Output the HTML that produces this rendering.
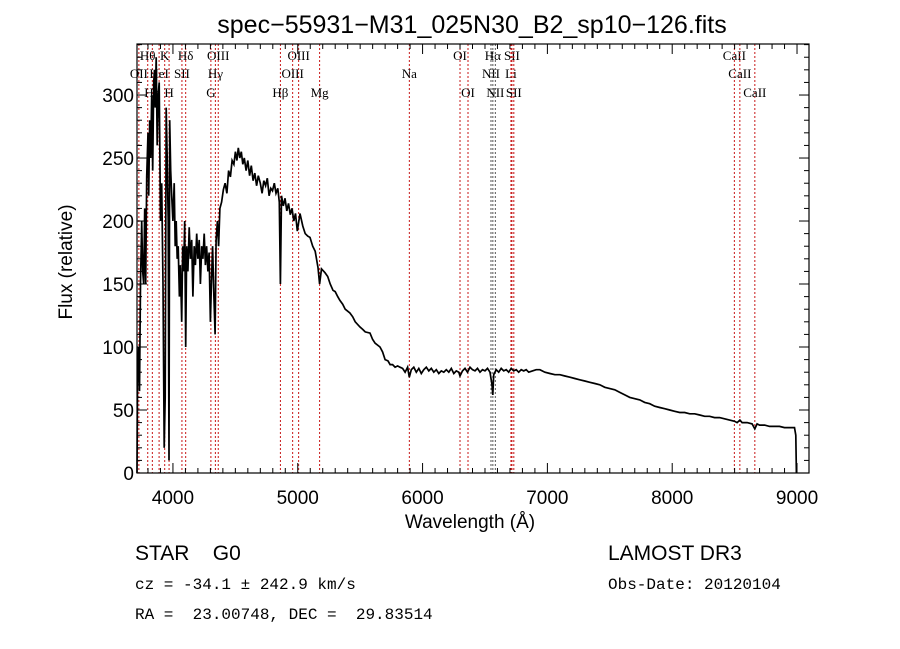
<!DOCTYPE html>
<html><head><meta charset="utf-8"><style>
html,body{margin:0;padding:0;background:#fff;}
svg{display:block;}
.t{font-family:"Liberation Sans","DejaVu Sans",sans-serif;fill:#000;}
.m{font-family:"Liberation Mono","DejaVu Sans Mono",monospace;fill:#000;}
.s{font-family:"Liberation Serif","DejaVu Serif",serif;fill:#000;font-size:13px;}
</style></head><body>
<svg id="chart" width="900" height="649" viewBox="0 0 900 649" xmlns="http://www.w3.org/2000/svg">
<rect width="900" height="649" fill="#fff"/>
<text class="t" x="472" y="33" font-size="25" text-anchor="middle">spec−55931−M31_025N30_B2_sp10−126.fits</text>
<g id="lines"></g>
<g id="spec"></g>
<g id="axes"></g>
<text class="t" x="470" y="528" font-size="19" text-anchor="middle">Wavelength (Å)</text>
<text class="t" x="0" y="0" font-size="19" text-anchor="middle" transform="translate(72,262) rotate(-90)">Flux (relative)</text>
<text class="t" x="135" y="560" font-size="21" xml:space="preserve">STAR    G0</text>
<text class="t" x="608" y="560" font-size="21">LAMOST DR3</text>
<text class="m" x="135" y="589" font-size="16">cz = -34.1 ± 242.9 km/s</text>
<text class="m" x="608" y="589" font-size="16">Obs-Date: 20120104</text>
<text class="m" x="135" y="619" font-size="16" xml:space="preserve">RA =  23.00748, DEC =  29.83514</text>
</svg>
<script>
const waveBlue = [3712,3716,3724,3732,3740,3750,3758,3766,3774,3782,3790,3800,3806,3814,3822,3830,3838,3846,3852,3858,3866,3874,3882,3890,3900,3910,3920,3930,3938,3946,3954,3962,3968,3974,3982,3990,4000,4010,4018,4026,4034,4042,4052,4060,4070,4078,4086,4094,4102,4110,4120,4130,4140,4150,4160,4170,4180,4190,4200,4210,4220,4230,4240,4250,4260,4270,4280,4290,4300,4308,4318,4328,4338,4346,4356,4366,4376,4390,4404,4418,4432,4446,4460,4474,4488,4500,4512,4524,4536,4548,4560,4572,4586,4600,4614,4628,4642,4656,4670,4684,4700,4714,4728,4742,4756,4770,4784,4798,4812,4826,4840,4852,4861,4870,4884,4898,4912,4926,4940,4954,4968,4982,4996,5018,5040,5060,5080,5098,5120,5140,5162,5175,5190,5218,5240,5260,5282,5300,5320,5338,5360,5380,5418,5440,5460,5498,5520,5540,5579,5600,5620,5659,5680,5700,5723,5740,5760,5780,5800,5819,5840,5860,5880,5894,5910,5930,5950,5970,5990,6010,6030,6050,6070,6090,6110,6130,6150,6170,6190,6210,6230,6250,6270,6290,6300,6320,6340,6360,6380,6400,6420,6440,6460,6480,6500,6520,6540,6556,6563,6570,6590,6610,6630,6650,6670,6690,6710,6730,6750,6770,6790,6810,6830,6850];
const fluxBlue = [0,70,100,65,150,200,160,150,210,150,235,270,220,280,250,300,240,310,320,290,330,260,300,310,200,230,150,20,60,290,250,200,10,280,240,220,200,230,180,200,170,180,140,165,120,180,160,200,100,180,160,195,170,185,140,180,165,190,170,185,150,180,170,190,165,180,160,175,120,150,180,140,110,185,200,180,210,215,225,230,222,240,235,248,245,255,248,258,250,255,245,250,240,248,236,244,232,238,228,236,230,222,232,228,234,220,226,224,230,222,226,215,150,220,212,218,208,214,205,210,200,206,192,206,196,190,188,187,180,176,163,150,162,159,156,150,145,144,140,137,134,130,127,124,120,116,114,112,111,106,103,100,96,90,89,86,86,84,85,84,83,80,84,76,82,84,80,83,79,82,84,81,83,80,82,79,81,80,82,80,83,79,81,80,77,81,83,80,84,82,81,83,80,82,81,83,80,70,62,78,82,80,83,81,82,80,83,81,82,80,82,81,82,80];
const waveRed = [6880,6910,6940,6980,7020,7060,7100,7140,7180,7220,7260,7300,7340,7380,7420,7460,7500,7540,7580,7620,7660,7700,7740,7780,7820,7860,7900,7940,7980,8020,8060,8100,8140,8180,8220,8260,8300,8340,8380,8420,8460,8500,8520,8542,8560,8600,8640,8662,8680,8700,8740,8780,8820,8860,8900,8940,8980,8990,8995];
const fluxRed = [81,82,82,80,79,78,78,77,76,75,74,73,72,71,70,68,67,66,64,62,60,59,58,56,55,53,52,51,50,49,48,48,47,47,46,45,45,44,44,43,42,41,40,42,40,40,39,35,39,38,38,37,37,37,36,36,36,30,0];
const lineWave = [3727,3798,3835,3889,3934,3969,4072,4102,4304,4340,4363,4861,4959,5007,5175,5894,6300,6364,6548,6563,6583,6708,6716,6731,8498,8542,8662];
const lineName = ["OII","Hθ","Hη","HeI","K","H","SII","Hδ","G","Hγ","OIII","Hβ","OIII","OIII","Mg","Na","OI","OI","NII","Hα","NII","Li","SII","SII","CaII","CaII","CaII"];
const lineRow = [1,0,2,1,0,2,1,0,2,1,0,2,1,0,2,1,0,2,1,0,2,1,0,2,0,1,2];
const xTicks = [4000,5000,6000,7000,8000,9000];
const yTicks = [0,50,100,150,200,250,300];

const L=137,R=809,T=44,B=473;
const X0=3712,X1=9096,Y0=0,Y1=340.5;
const sx=v=>L+(v-X0)/(X1-X0)*(R-L);
const sy=v=>B-(v-Y0)/(Y1-Y0)*(B-T);
const NS='http://www.w3.org/2000/svg';
function mk(tag,attrs,parent){const e=document.createElementNS(NS,tag);for(const k in attrs)e.setAttribute(k,attrs[k]);parent.appendChild(e);return e;}

const gl=document.getElementById('lines');
const rowY=[60,78,97];
lineWave.forEach((w,i)=>{
  const x=sx(w);
  const dark=(w>=6548&&w<=6583);
  const ln=mk('line',{x1:x,x2:x,y1:T,y2:B,stroke:dark?'#555':'#c81818','stroke-width':1,'stroke-dasharray':'2,2'},gl);
  
  
  const tx=mk('text',{x:x,y:rowY[lineRow[i]],'text-anchor':'middle',class:'s'},gl);
  tx.textContent=lineName[i];
  
  
});

const gs=document.getElementById('spec');
const wave=waveBlue.concat(waveRed);
const flux=fluxBlue.concat(fluxRed);
const n=Math.min(wave.length,flux.length);
const pts=[];
for(let i=0;i<n;i++)pts.push(sx(wave[i]).toFixed(1)+','+sy(flux[i]).toFixed(1));
const pl=mk('polyline',{points:pts.join(' '),fill:'none',stroke:'#000','stroke-width':1.7,'stroke-linejoin':'miter'},gs);



const ga=document.getElementById('axes');
const fr=mk('rect',{x:L,y:T,width:R-L,height:B-T,fill:'none',stroke:'#000','stroke-width':1.2},ga);


for(let w=3800;w<=9000;w+=100){
  const x=sx(w);const maj=(w%1000===0);const len=maj?10:5;
  mk('line',{x1:x,x2:x,y1:B,y2:B-len,stroke:'#000','stroke-width':1},ga);
  mk('line',{x1:x,x2:x,y1:T,y2:T+len,stroke:'#000','stroke-width':1},ga);
}
xTicks.forEach(v=>{
  const t=mk('text',{x:sx(v),y:B+31,'text-anchor':'middle',class:'t','font-size':19},ga);
  t.textContent=v;
  
  
});
for(let v=0;v<=340;v+=10){
  const y=sy(v);const maj=(v%50===0);const len=maj?10:5;
  mk('line',{x1:L,x2:L+len,y1:y,y2:y,stroke:'#000','stroke-width':1},ga);
  mk('line',{x1:R,x2:R-len,y1:y,y2:y,stroke:'#000','stroke-width':1},ga);
}
yTicks.forEach(v=>{
  const t=mk('text',{x:L-3,y:sy(v)+7,'text-anchor':'end',class:'t','font-size':19},ga);
  t.textContent=v;
  
  
});
</script>
</body></html>
